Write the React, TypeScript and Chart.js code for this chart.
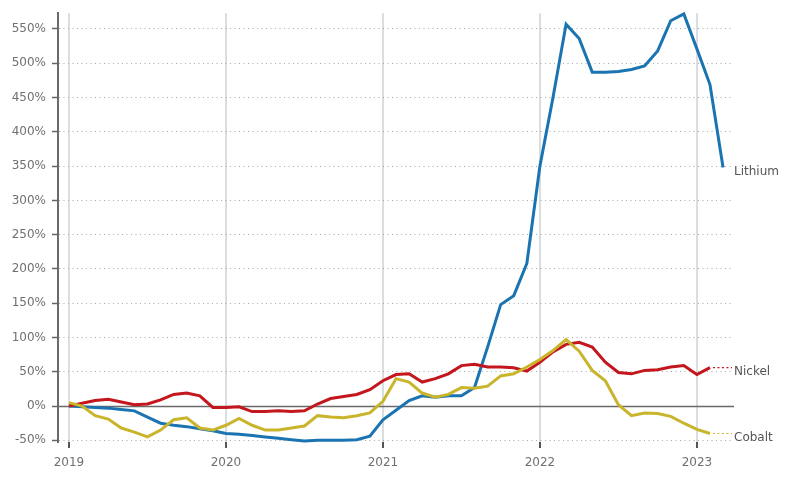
import React, { useEffect, useRef } from 'react';
import { Chart, registerables } from 'chart.js';

Chart.register(...registerables);

// Monthly observations (% change since January 2019)
const months = [
  '2019-01','2019-02','2019-03','2019-04','2019-05','2019-06','2019-07','2019-08','2019-09','2019-10','2019-11','2019-12',
  '2020-01','2020-02','2020-03','2020-04','2020-05','2020-06','2020-07','2020-08','2020-09','2020-10','2020-11','2020-12',
  '2021-01','2021-02','2021-03','2021-04','2021-05','2021-06','2021-07','2021-08','2021-09','2021-10','2021-11','2021-12',
  '2022-01','2022-02','2022-03','2022-04','2022-05','2022-06','2022-07','2022-08','2022-09','2022-10','2022-11','2022-12',
  '2023-01','2023-02','2023-03',
];

const lithium = [
  0, -1, -2, -3, -5, -7, -16, -25, -28, -30, -33, -36,
  -40, -41, -43, -45, -47, -49, -51, -50, -50, -50, -49, -44,
  -20, -6, 8, 15, 13, 15, 15, 27, 86, 148, 161, 208,
  350, 450, 557, 536, 487, 487, 488, 491, 496, 518, 562, 572,
  521, 469, 348,
];

const nickel = [
  0, 4, 8, 10, 6, 2, 3, 9, 17, 19, 15, -2,
  -2, -1, -8, -8, -7, -8, -7, 3, 11, 14, 17, 24,
  37, 46, 47, 35, 40, 47, 59, 61, 57, 57, 56, 51,
  64, 79, 90, 93, 86, 64, 49, 47, 52, 53, 57, 59,
  46, 56, null,
];

const cobalt = [
  5, 0, -14, -19, -32, -38, -45, -35, -20, -17, -32, -35,
  -28, -18, -28, -35, -35, -32, -29, -14, -16, -17, -14, -10,
  7, 40, 35, 19, 13, 17, 27, 26, 29, 44, 47, 57,
  68, 81, 97, 80, 52, 37, 2, -14, -10, -11, -15, -25,
  -34, -40, null,
];

const yearTickMonths = [0, 12, 24, 36, 48];
const yearLabels = ['2019', '2020', '2021', '2022', '2023'];
const yTickValues = [-50, 0, 50, 100, 150, 200, 250, 300, 350, 400, 450, 500, 550];

const FONT = 'DejaVu Sans';

function monthIndex(s: string) {
  const [y, m] = s.split('-').map(Number);
  return (y - 2019) * 12 + (m - 1);
}

function toPoints(arr: (number | null)[]) {
  return months.map((m, i) => ({ x: monthIndex(m), y: arr[i] }));
}

const zeroLinePlugin = {
  id: 'zeroLine',
  beforeDatasetsDraw(chart: any) {
    const { ctx, chartArea, scales } = chart;
    const y = Math.round(scales.y.getPixelForValue(0)) + 0.5;
    ctx.save();
    ctx.strokeStyle = '#6a6a6a';
    ctx.lineWidth = 1.5;
    ctx.beginPath();
    ctx.moveTo(chartArea.left, y);
    ctx.lineTo(chartArea.right + 1, y);
    ctx.stroke();
    ctx.restore();
  },
};

const endLabelPlugin = {
  id: 'endLabels',
  afterDatasetsDraw(chart: any) {
    const { ctx, chartArea } = chart;
    chart.data.datasets.forEach((ds: any, i: number) => {
      const meta = chart.getDatasetMeta(i);
      let last: any = null;
      for (let k = ds.data.length - 1; k >= 0; k--) {
        if (ds.data[k].y !== null && ds.data[k].y !== undefined) {
          last = meta.data[k];
          break;
        }
      }
      if (!last) return;
      ctx.save();
      if (ds.connector) {
        ctx.strokeStyle = ds.borderColor;
        ctx.lineWidth = 1.2;
        ctx.setLineDash([2, 2.5]);
        ctx.beginPath();
        ctx.moveTo(last.x + 3, last.y);
        ctx.lineTo(chartArea.right - 1, last.y);
        ctx.stroke();
        ctx.setLineDash([]);
      }
      ctx.fillStyle = '#555555';
      ctx.font = `12px "${FONT}"`;
      ctx.textAlign = 'left';
      ctx.textBaseline = 'alphabetic';
      ctx.fillText(ds.label, chartArea.right + 1, last.y + 7.5);
      ctx.restore();
    });
  },
};

export default function App() {
  const ref = useRef<HTMLCanvasElement | null>(null);

  useEffect(() => {
    if (!ref.current) return;
    const chart = new Chart(ref.current, {
      type: 'line',
      data: {
        datasets: [
          {
            label: 'Cobalt',
            data: toPoints(cobalt),
            borderColor: '#c9b52c',
            borderWidth: 3,
            pointRadius: 0,
            tension: 0,
            clip: false,
            connector: true,
          } as any,
          {
            label: 'Nickel',
            data: toPoints(nickel),
            borderColor: '#c3161d',
            borderWidth: 3,
            pointRadius: 0,
            tension: 0,
            clip: false,
            connector: true,
          } as any,
          {
            label: 'Lithium',
            data: toPoints(lithium),
            borderColor: '#1b74b2',
            borderWidth: 3,
            pointRadius: 0,
            tension: 0,
            clip: false,
            connector: false,
          } as any,
        ],
      },
      options: {
        responsive: false,
        animation: false,
        devicePixelRatio: 1,
        layout: { padding: { top: 12, right: 67, left: 0, bottom: 0 } },
        plugins: {
          legend: { display: false },
          tooltip: { enabled: false },
        },
        scales: {
          x: {
            type: 'linear',
            min: -0.84,
            max: 50.76,
            afterBuildTicks: (s: any) => {
              s.ticks = yearTickMonths.map((v) => ({ value: v }));
            },
            afterFit: (s: any) => {
              s.height = 37;
            },
            ticks: {
              autoSkip: false,
              maxRotation: 0,
              padding: 8,
              color: '#707070',
              font: { family: FONT, size: 12 },
              callback: (v: any) => yearLabels[yearTickMonths.indexOf(Number(v))],
            },
            grid: {
              color: '#dadee2',
              lineWidth: 2,
              drawTicks: true,
              tickLength: 6,
              tickColor: '#555555',
              tickWidth: 2,
            },
            border: { display: false },
          },
          y: {
            type: 'linear',
            min: -52.4,
            max: 573,
            afterBuildTicks: (s: any) => {
              s.ticks = yTickValues.map((v) => ({ value: v }));
            },
            afterFit: (s: any) => {
              s.width = 58;
            },
            ticks: {
              padding: 6,
              color: '#707070',
              font: { family: FONT, size: 12 },
              callback: (v: any) => `${v}%`,
            },
            grid: {
              color: '#a8a8a8',
              lineWidth: 1,
              drawTicks: true,
              tickLength: 6,
              tickColor: '#666666',
              tickWidth: 1.5,
              tickBorderDash: [],
            },
            border: { display: true, color: '#6a6a6a', width: 2, dash: [1, 3.5] },
          },
        },
      } as any,
      plugins: [zeroLinePlugin, endLabelPlugin],
    });
    return () => chart.destroy();
  }, []);

  return (
    <div style={{ position: 'fixed', left: 0, top: 0, width: 800, height: 479, background: '#fff' }}>
      <canvas ref={ref} width={800} height={479} style={{ display: 'block' }} />
    </div>
  );
}
